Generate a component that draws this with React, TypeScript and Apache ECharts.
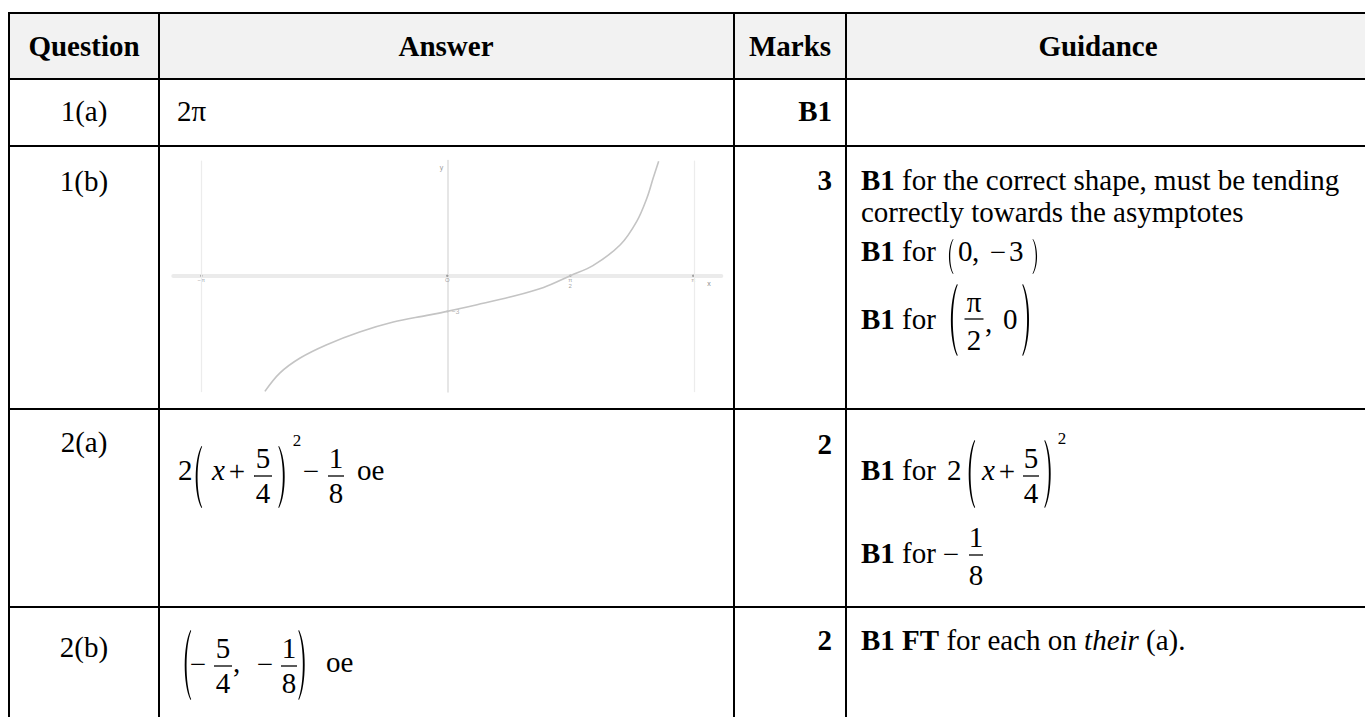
import React, { useEffect, useRef } from 'react';
import * as echarts from 'echarts';

// ---------------- content ----------------
const headers = ['Question', 'Answer', 'Marks', 'Guidance'];
const questions = ['1(a)', '1(b)', '2(a)', '2(b)'];
const marks = ['B1', '3', '2', '2'];
const answer1a = '2π';
const guidance1bLines = ['{b|B1} for the correct shape, must be tending', 'correctly towards the asymptotes'];
const guidanceFor = '{b|B1} for';
const guidance2b = '{b|B1 FT} for each on {i|their} (a).';
const answerSuffix = 'oe';

// ---------------- 1(b) sketch values ----------------
const curveX = [-2.33, -2.14, -1.88, -1.54, -1.12, -0.69, -0.26, 0, 0.38, 0.8, 1.23, 1.57, 1.86, 2.21, 2.42, 2.55, 2.63, 2.7];
const curveY = [-9.74, -8.2, -6.93, -5.81, -4.74, -3.9, -3.34, -3.0, -2.44, -1.79, -0.98, 0, 0.85, 2.61, 4.58, 6.55, 8.23, 9.64];
const asymptoteX = [-3.14, 3.15];
const tickX = [-Math.PI, 0, Math.PI / 2, Math.PI];
const tickLabels = ['−π', 'O', 'π\n2', 'π'];
const interceptValue = -3;
const interceptLabel = '−3';
const xRange = [-3.5, 3.5];
const yRange = [-9.8, 9.7];

// ---------------- layout ----------------
const COL = [9, 159, 734, 846, 1365];
const ROW = [13, 79, 146, 409, 607, 717];
const HEADER_X = [84, 446, 790, 1098];
const HEADER_Y = 46;
const Q_X = 84;
const Q_Y = [111, 181, 442, 647];
const M_X = 832;
const M_Y = [111, 180, 444, 640];
const A_X = 177;
const G_X = 861;

const FAM = '"Liberation Serif", "Times New Roman", serif';
const SIZE = 29;
const fn = (w = 'normal', s = 'normal', size = SIZE) => `${s} ${w} ${size}px ${FAM}`;
const RICH = { b: { font: fn('bold') }, i: { font: fn('normal', 'italic') } };

echarts.graphic.registerShape(
  'lparen',
  echarts.graphic.extendPath('M10 0 C1 22 1 78 10 100 L10.8 99 C3.6 77 3.6 23 10.8 1 Z', {})
);
echarts.graphic.registerShape(
  'rparen',
  echarts.graphic.extendPath('M0 0 C9 22 9 78 0 100 L-0.8 99 C6.4 77 6.4 23 -0.8 1 Z', {})
);

function txt(x: number, y: number, text: string, opt: any = {}) {
  const style: any = {
    text,
    font: opt.font || fn(),
    fill: '#000',
    textAlign: opt.align || 'left',
    textVerticalAlign: 'middle',
  };
  if (opt.rich) style.rich = RICH;
  return { type: 'text', x, y, silent: true, style };
}

function paren(side: 'l' | 'r', x: number, top: number, h: number, sx = 1) {
  return {
    type: side === 'l' ? 'lparen' : 'rparen',
    x,
    y: top,
    scaleX: sx,
    scaleY: h / 100,
    silent: true,
    style: { fill: '#000' },
  };
}

function frac(cx: number, barY: number, num: string, den: string, w: number, up = 18, down = 17) {
  return [
    txt(cx, barY - up, num, { align: 'center' }),
    {
      type: 'line',
      silent: true,
      shape: { x1: cx - w / 2, y1: barY, x2: cx + w / 2, y2: barY },
      style: { stroke: '#000', lineWidth: 1.3 },
    },
    txt(cx, barY + down, den, { align: 'center' }),
  ];
}

function line(x1: number, y1: number, x2: number, y2: number) {
  return { type: 'line', silent: true, shape: { x1, y1, x2, y2 }, style: { stroke: '#000', lineWidth: 2 } };
}

function buildGraphic() {
  const els: any[] = [];
  // header background
  els.push({
    type: 'rect',
    silent: true,
    shape: { x: COL[0], y: ROW[0], width: COL[4] - COL[0], height: ROW[1] - ROW[0] },
    style: { fill: '#f2f2f2' },
  });
  // horizontal rules
  for (let i = 0; i < ROW.length - 1; i++) els.push(line(COL[0] - 1, ROW[i], COL[4], ROW[i]));
  // vertical rules
  for (let i = 0; i < COL.length - 1; i++) els.push(line(COL[i], ROW[0] - 1, COL[i], ROW[5]));

  // headers
  headers.forEach((h, i) => els.push(txt(HEADER_X[i], HEADER_Y, h, { font: fn('bold'), align: 'center' })));
  // questions and marks
  questions.forEach((q, i) => els.push(txt(Q_X, Q_Y[i], q, { align: 'center' })));
  marks.forEach((m, i) => els.push(txt(M_X, M_Y[i], m, { font: fn('bold'), align: 'right' })));

  // 1(a)
  els.push(txt(A_X, 111, answer1a));

  // 1(b) guidance
  els.push(txt(G_X, 180, guidance1bLines[0], { rich: true }));
  els.push(txt(G_X, 212, guidance1bLines[1]));
  // B1 for (0, −3)
  els.push(txt(G_X, 251, guidanceFor, { rich: true }));
  els.push(paren('l', 947, 239, 35, 0.6));
  els.push(txt(958, 251, '0'));
  els.push(txt(972, 251, ','));
  els.push(txt(998, 252, '−', { align: 'center' }));
  els.push(txt(1009, 251, '3'));
  els.push(paren('r', 1033, 239, 35, 0.6));
  // B1 for (π/2, 0)
  els.push(txt(G_X, 319, guidanceFor, { rich: true }));
  els.push(paren('l', 948, 284, 72, 0.9));
  els.push(...frac(974, 319, 'π', '2', 19, 17, 21));
  els.push(txt(985, 322, ','));
  els.push(txt(1003, 319, '0'));
  els.push(paren('r', 1023, 284, 72, 0.9));

  // 2(a) answer: 2(x + 5/4)^2 − 1/8 oe
  els.push(txt(178, 470, '2'));
  els.push(paren('l', 193, 446, 62, 0.85));
  els.push(txt(212, 470, 'x', { font: fn('normal', 'italic') }));
  els.push(txt(237, 471, '+', { align: 'center' }));
  els.push(...frac(263, 476, '5', '4', 18));
  els.push(paren('r', 279, 446, 62, 0.85));
  els.push(txt(297, 440, '2', { font: fn('normal', 'normal', 17), align: 'center' }));
  els.push(txt(311, 471, '−', { align: 'center' }));
  els.push(...frac(336, 476, '1', '8', 16));
  els.push(txt(357, 470, answerSuffix));

  // 2(a) guidance
  els.push(txt(G_X, 470, guidanceFor, { rich: true }));
  els.push(txt(947, 470, '2'));
  els.push(paren('l', 966, 440, 68, 0.85));
  els.push(txt(982, 470, 'x', { font: fn('normal', 'italic') }));
  els.push(txt(1007, 471, '+', { align: 'center' }));
  els.push(...frac(1031, 476, '5', '4', 16));
  els.push(paren('r', 1045, 440, 68, 0.85));
  els.push(txt(1062, 438, '2', { font: fn('normal', 'normal', 17), align: 'center' }));
  els.push(txt(G_X, 553, guidanceFor, { rich: true }));
  els.push(txt(951, 554, '−', { align: 'center' }));
  els.push(...frac(976, 555, '1', '8', 14, 18, 20));

  // 2(b) answer: (−5/4, −1/8) oe
  els.push(paren('l', 182, 630, 70, 0.85));
  els.push(txt(198, 664, '−', { align: 'center' }));
  els.push(...frac(223, 666, '5', '4', 18));
  els.push(txt(233, 662, ','));
  els.push(txt(265, 664, '−', { align: 'center' }));
  els.push(...frac(289, 666, '1', '8', 16));
  els.push(paren('r', 299, 630, 70, 0.85));
  els.push(txt(326, 662, answerSuffix));

  // 2(b) guidance
  els.push(txt(G_X, 640, guidance2b, { rich: true }));
  return els;
}

export default function App() {
  const ref = useRef<HTMLDivElement>(null);
  useEffect(() => {
    if (!ref.current) return;
    const chart = echarts.init(ref.current, null, { renderer: 'svg' });
    chart.setOption({
      animation: false,
      backgroundColor: '#ffffff',
      grid: { left: 173.3, top: 160.6, width: 548, height: 231.5 },
      xAxis: {
        type: 'value',
        min: xRange[0],
        max: xRange[1],
        axisLine: { onZero: true, lineStyle: { color: '#ebebeb', width: 4 } },
        axisTick: { show: false },
        axisLabel: { show: false },
        splitLine: { show: false },
        name: 'x',
        nameLocation: 'end',
        nameGap: -14,
        nameTextStyle: { fontSize: 7, color: '#8a8a8a', verticalAlign: 'top', padding: [4, 0, 0, 0] },
      },
      yAxis: {
        type: 'value',
        min: yRange[0],
        max: yRange[1],
        axisLine: { onZero: true, lineStyle: { color: '#dedede', width: 1.5 } },
        axisTick: { show: false },
        axisLabel: { show: false },
        splitLine: { show: false },
        name: 'y',
        nameLocation: 'end',
        nameGap: -10,
        nameTextStyle: { fontSize: 7, color: '#9a9a9a', align: 'right', padding: [0, 4, 0, 0] },
      },
      series: [
        {
          type: 'line',
          data: curveX.map((x, i) => [x, curveY[i]]),
          smooth: 0.35,
          symbol: 'none',
          lineStyle: { color: '#c4c4c4', width: 1.6 },
          markLine: {
            silent: true,
            symbol: ['none', 'none'],
            label: { show: false },
            lineStyle: { color: '#ececec', width: 1.2, type: 'solid' },
            data: asymptoteX.map((x) => ({ xAxis: x })),
          },
        },
        {
          type: 'scatter',
          data: tickX.map((x, i) => ({ value: [x, 0], label: { formatter: tickLabels[i] } })),
          symbolSize: 2.5,
          itemStyle: { color: '#8a8a8a' },
          label: { show: true, position: 'bottom', distance: 0, fontSize: 6, lineHeight: 6, color: '#8a8a8a' },
        },
        {
          type: 'scatter',
          data: [[0, interceptValue]],
          symbolSize: 2,
          itemStyle: { color: '#bdbdbd' },
          label: { show: true, formatter: interceptLabel, position: 'right', distance: 3, fontSize: 7, color: '#9a9a9a' },
        },
      ],
      graphic: { elements: buildGraphic() },
    });
    return () => chart.dispose();
  }, []);
  return (
    <div
      ref={ref}
      style={{ position: 'fixed', left: 0, top: 0, width: 1365, height: 717, background: '#fff' }}
    />
  );
}
